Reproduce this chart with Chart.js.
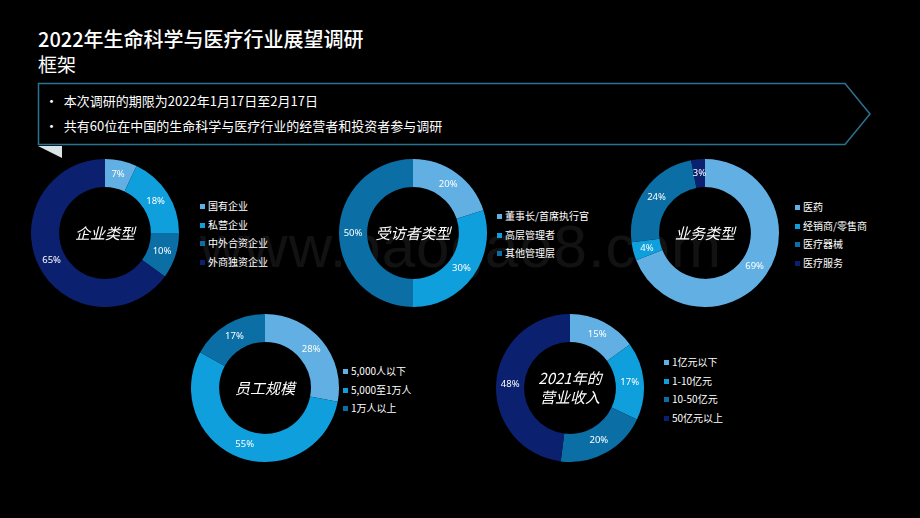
<!DOCTYPE html>
<html><head><meta charset="utf-8">
<script src="https://cdn.jsdelivr.net/npm/chart.js@4"></script>
<style>
body{margin:0;width:920px;height:518px;background:#000;position:relative;overflow:hidden;font-family:"Noto Sans CJK SC","Noto Sans",sans-serif;color:#fff}
.abs{position:absolute}
.wrap{position:absolute;width:150px;height:150px}
.lg{position:absolute;font-size:10px;line-height:18.5px;color:#fff}
.lg span.sq{display:inline-block;width:5px;height:5px;margin-right:3px;vertical-align:1px}
.wm{position:absolute;left:200px;top:212px;font-family:"Liberation Sans",sans-serif;font-size:60px;color:rgba(255,255,255,0.07);letter-spacing:1px}
</style></head><body>
<div class="abs" style="left:38px;top:24px;font-size:20px;font-weight:500">2022年生命科学与医疗行业展望调研</div>
<div class="abs" style="left:38px;top:50px;font-size:19px">框架</div>
<svg class="abs" style="left:0;top:0" width="920" height="170">
<polygon points="38.5,83.5 845,83.5 870,114 845,144.5 38.5,144.5" fill="none" stroke="#2b7390" stroke-width="1.5"/>
<polygon points="38,146 62,146 62,158" fill="#d8e4e8"/>
</svg>
<div class="abs" style="left:45px;top:91px;font-size:13px">•&nbsp; 本次调研的期限为2022年1月17日至2月17日</div>
<div class="abs" style="left:45px;top:116px;font-size:13px">•&nbsp; 共有60位在中国的生命科学与医疗行业的经营者和投资者参与调研</div>
<div class="wm">www.baogao8.com</div>
<script>
const C=['#62b0e3','#0f9fdc','#0b6fa6','#0b2170'];
const titles=['企业类型','受访者类型','业务类型','员工规模','2021年的\n营业收入'];
const labels1=['国有企业','私营企业','中外合资企业','外商独资企业'];
const values1=[7,18,10,65];
const labels2=['董事长/首席执行官','高层管理者','其他管理层'];
const values2=[20,30,50];
const labels3=['医药','经销商/零售商','医疗器械','医疗服务'];
const values3=[69,4,24,3];
const labels4=['5,000人以下','5,000至1万人','1万人以上'];
const values4=[28,55,17];
const labels5=['1亿元以下','1-10亿元','10-50亿元','50亿元以上'];
const values5=[15,17,20,48];
const charts=[
 {labels:labels1,values:values1,cx:105,cy:233,lx:200,ly:197},
 {labels:labels2,values:values2,cx:413,cy:233,lx:497,ly:207},
 {labels:labels3,values:values3,cx:705,cy:233,lx:795,ly:198},
 {labels:labels4,values:values4,cx:265,cy:388,lx:343,ly:362},
 {labels:labels5,values:values5,cx:570,cy:388,lx:664,ly:353}
];
const lblPlugin={id:'lbl',afterDatasetsDraw(ch){
 const ctx=ch.ctx;const meta=ch.getDatasetMeta(0);
 ctx.save();ctx.fillStyle='#fff';ctx.font='9.5px "Noto Sans","Liberation Sans",sans-serif';ctx.textAlign='center';ctx.textBaseline='middle';
 meta.data.forEach((a,i)=>{const p=a.tooltipPosition();ctx.fillText(ch.data.datasets[0].data[i]+'%',p.x,p.y);});
 const t=ch.options.plugins.lbl.title.split('\n');
 ctx.font='italic 15px "Noto Sans CJK SC",sans-serif';
 const {x,y}=meta.data[0];
 t.forEach((s,k)=>ctx.fillText(s,x,y+(k-(t.length-1)/2)*19));
 ctx.restore();}};
charts.forEach((c,i)=>{
 const wrap=document.createElement('div');wrap.className='wrap';
 wrap.style.left=(c.cx-75)+'px';wrap.style.top=(c.cy-75)+'px';
 const cv=document.createElement('canvas');
 wrap.appendChild(cv);document.body.appendChild(wrap);
 new Chart(cv,{type:'doughnut',data:{labels:c.labels,datasets:[{data:c.values,backgroundColor:C.slice(0,c.values.length),borderWidth:0}]},
  options:{responsive:true,maintainAspectRatio:false,animation:false,cutout:'62%',layout:{padding:1},
   plugins:{legend:{display:false},tooltip:{enabled:false},lbl:{title:titles[i]}}},plugins:[lblPlugin]});
 const lg=document.createElement('div');lg.className='lg';lg.style.left=c.lx+'px';lg.style.top=c.ly+'px';
 lg.innerHTML=c.labels.map((l,k)=>'<div><span class="sq" style="background:'+C[k]+'"></span>'+l+'</div>').join('');
 document.body.appendChild(lg);
});
</script>
</body></html>
